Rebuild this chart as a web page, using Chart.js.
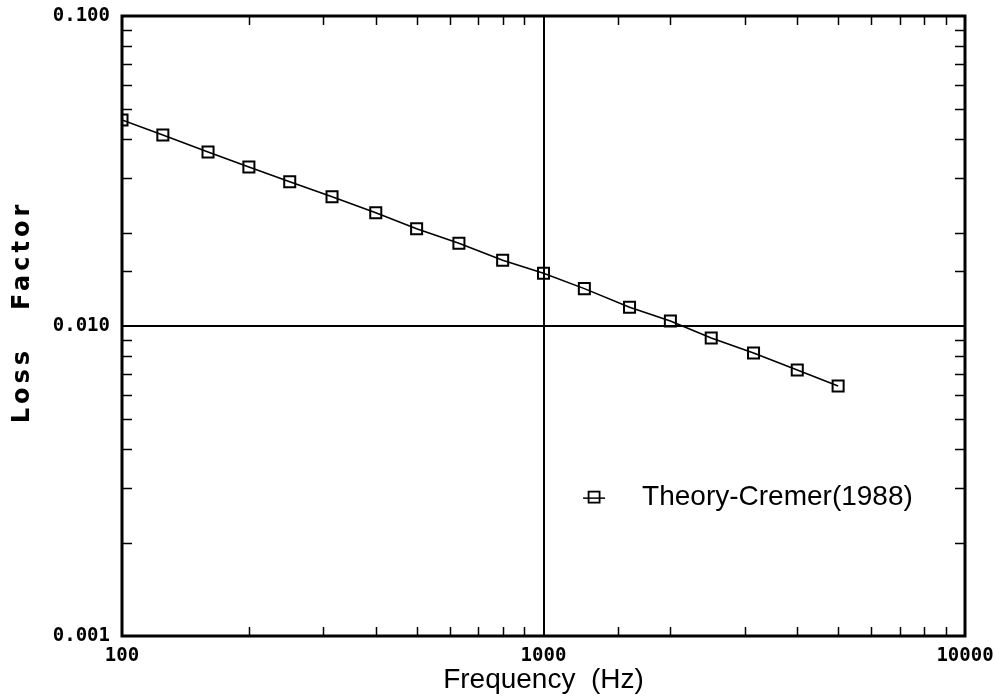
<!DOCTYPE html>
<html>
<head>
<meta charset="utf-8">
<title>Loss Factor vs Frequency</title>
<script src="https://cdn.jsdelivr.net/npm/chart.js@4.4.0/dist/chart.umd.min.js"></script>
<style>
  html, body { margin: 0; padding: 0; background: #fff; }
</style>
</head>
<body>
<canvas id="lossChart" width="995" height="700"></canvas>
<script>
// 1/3-octave centre frequencies (Hz)
const frequencies = [100, 125, 160, 200, 250, 315, 400, 500, 630, 800, 1000, 1250, 1600, 2000, 2500, 3150, 4000, 5000];
// loss factor
const lossFactor = [0.0462, 0.0413, 0.0364, 0.0326, 0.0292, 0.0261, 0.0232, 0.0206, 0.0185, 0.0163, 0.0148, 0.0132, 0.0115, 0.01037, 0.00914, 0.00818, 0.00721, 0.00640];

const xTickLabels = ['100', '1000', '10000'];
const yTickLabels = ['0.001', '0.010', '0.100'];
const seriesLabel = 'Theory-Cremer(1988)';
const xTitle = 'Frequency  (Hz)';
const yTitle = 'Loss   Factor';

function isDecade(v) {
    const l = Math.log10(v);
    return Math.abs(l - Math.round(l)) < 1e-6;
}

function isInnerMajor(v, lo, hi) {
    return isDecade(v) && Math.abs(v - lo) / lo > 1e-6 && Math.abs(v - hi) / hi > 1e-6;
}

// box, inner minor ticks, legend and y title
const framePlugin = {
    id: 'frame',
    afterDraw(chart) {
        const { ctx, chartArea: a, scales: { x, y } } = chart;
        ctx.save();
        ctx.strokeStyle = '#000';
        ctx.fillStyle = '#000';

        ctx.lineWidth = 1.5;
        ctx.beginPath();
        x.ticks.forEach(t => {
            if (isDecade(t.value)) return;
            const px = Math.round(x.getPixelForValue(t.value)) + 0.5;
            ctx.moveTo(px, a.bottom); ctx.lineTo(px, a.bottom - 9);
            ctx.moveTo(px, a.top); ctx.lineTo(px, a.top + 9);
        });
        y.ticks.forEach(t => {
            if (isDecade(t.value)) return;
            const py = Math.round(y.getPixelForValue(t.value)) + 0.5;
            ctx.moveTo(a.left, py); ctx.lineTo(a.left + 10, py);
            ctx.moveTo(a.right, py); ctx.lineTo(a.right - 10, py);
        });
        ctx.stroke();

        ctx.lineWidth = 3;
        ctx.strokeRect(a.left, a.top, a.width, a.height);

        // legend inside the plot
        const lx = a.left + 0.56 * a.width;
        const ly = a.top + 0.776 * a.height;
        ctx.lineWidth = 1.5;
        ctx.beginPath();
        ctx.moveTo(lx - 11, ly + 1); ctx.lineTo(lx + 11, ly + 1);
        ctx.stroke();
        ctx.lineWidth = 1.8;
        ctx.strokeRect(lx - 5.5, ly - 5.5, 11, 11);
        ctx.font = '28px "Liberation Sans"';
        ctx.textAlign = 'left';
        ctx.textBaseline = 'middle';
        ctx.fillText(seriesLabel, lx + 48, ly);

        // rotated y title with wide letter spacing
        ctx.translate(23, (a.top + a.bottom) / 2 - 14);
        ctx.rotate(-Math.PI / 2);
        ctx.font = 'bold 24px "DejaVu Sans"';
        ctx.letterSpacing = '4px';
        ctx.textAlign = 'center';
        ctx.fillText(yTitle, 0, 0);
        ctx.restore();
    }
};

const ctx = document.getElementById('lossChart').getContext('2d');
new Chart(ctx, {
    type: 'line',
    data: {
        datasets: [{
            label: seriesLabel,
            data: frequencies.map((f, i) => ({ x: f, y: lossFactor[i] })),
            borderColor: '#000',
            borderWidth: 1.6,
            pointStyle: 'rect',
            pointRadius: 7.8,
            pointBorderWidth: 2,
            pointBorderColor: '#000',
            pointBackgroundColor: 'rgba(0,0,0,0)',
            tension: 0
        }]
    },
    options: {
        responsive: false,
        animation: false,
        layout: { padding: { top: 16, right: 30, left: 0, bottom: 0 } },
        scales: {
            x: {
                type: 'logarithmic',
                min: 100,
                max: 10000,
                afterFit: s => { s.height = 64; s.paddingLeft = 0; s.paddingRight = 0; },
                border: { display: false },
                grid: {
                    drawTicks: false,
                    lineWidth: 2,
                    color: c => (c.tick && isInnerMajor(c.tick.value, 100, 10000)) ? '#000' : 'rgba(0,0,0,0)'
                },
                ticks: {
                    autoSkip: false,
                    maxRotation: 0,
                    padding: 9,
                    color: '#000',
                    font: { family: '"DejaVu Sans Mono"', size: 19, weight: 'bold' },
                    callback: v => isDecade(v) ? xTickLabels[Math.round(Math.log10(v)) - 2] : ''
                },
                title: {
                    display: true,
                    text: xTitle,
                    color: '#000',
                    padding: { top: 0, bottom: 3 },
                    font: { family: '"Liberation Sans"', size: 28, lineHeight: 1.2 }
                }
            },
            y: {
                type: 'logarithmic',
                min: 0.001,
                max: 0.1,
                afterFit: s => { s.width = 122; s.paddingTop = 0; s.paddingBottom = 0; },
                border: { display: false },
                grid: {
                    drawTicks: false,
                    lineWidth: 2,
                    color: c => (c.tick && isInnerMajor(c.tick.value, 0.001, 0.1)) ? '#000' : 'rgba(0,0,0,0)'
                },
                ticks: {
                    autoSkip: false,
                    padding: 12,
                    color: '#000',
                    font: { family: '"DejaVu Sans Mono"', size: 19, weight: 'bold' },
                    callback: v => isDecade(v) ? yTickLabels[Math.round(Math.log10(v)) + 3] : ''
                }
            }
        },
        plugins: {
            legend: { display: false },
            tooltip: { enabled: false }
        }
    },
    plugins: [framePlugin]
});
</script>
</body>
</html>
